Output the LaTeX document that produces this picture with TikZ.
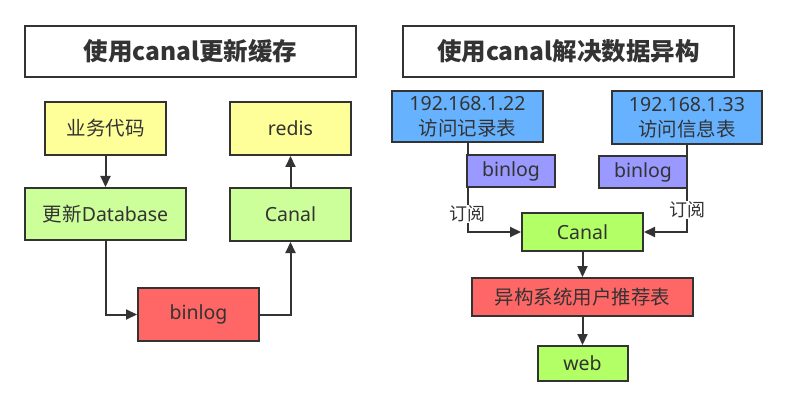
\documentclass[tikz,border=0pt]{standalone}
\usepackage{fontspec}
\setmainfont{Noto Sans}
\newfontfamily\cjk{Noto Sans CJK SC}
\usetikzlibrary{arrows.meta}
\definecolor{txt}{HTML}{333333}
\definecolor{cyel}{HTML}{FFFF99}
\definecolor{cgrn}{HTML}{CCFF99}
\definecolor{cred}{HTML}{FF6666}
\definecolor{cblu}{HTML}{66B2FF}
\definecolor{cpur}{HTML}{9999FF}
\definecolor{clim}{HTML}{B3FF66}
\tikzset{
  boxnode/.style={draw=txt,line width=2pt,inner sep=0pt,text=txt,align=center,
    font=\fontsize{19.5}{25}\selectfont},
  titlenode/.style={boxnode,fill=white,minimum width=331pt,minimum height=51pt,
    font=\fontsize{24.5}{28}\selectfont\cjk\bfseries},
  conn/.style={draw=txt,line width=2pt,-{Triangle[length=11pt,width=10pt]}},
  sublabel/.style={fill=white,inner sep=1pt,text=txt,font=\fontsize{18}{20}\selectfont\cjk}
}
\begin{document}
\begin{tikzpicture}[x=1pt,y=-1pt]
\useasboundingbox (0,0) rectangle (787,406);
% titles
\node[titlenode] (t1) at (190.5,51.5) {使用canal更新缓存};
\node[titlenode] (t2) at (568.5,51.5) {使用canal解决数据异构};
% left diagram
\node[boxnode,fill=cyel,minimum width=121pt,minimum height=53pt] (code) at (105.5,128.5) {\cjk 业务代码};
\node[boxnode,fill=cyel,minimum width=121pt,minimum height=53pt] (redis) at (290.5,128.5) {redis};
\node[boxnode,fill=cgrn,minimum width=161pt,minimum height=52pt] (db) at (105.5,214) {{\cjk 更新}Database};
\node[boxnode,fill=cgrn,minimum width=121pt,minimum height=53pt] (canalL) at (290.5,214.5) {Canal};
\node[boxnode,fill=cred,minimum width=121pt,minimum height=53pt] (binL) at (198.5,314.5) {binlog};
\draw[conn] (code) -- (db);
\draw[conn] (db.south) |- (binL.west);
\draw[conn] (binL.east) -| (canalL.south);
\draw[conn] (canalL) -- (redis);
% right diagram
\node[boxnode,fill=cblu,minimum width=151pt,minimum height=51pt] (ip1) at (467.5,116.5) {192.168.1.22\\{\cjk 访问记录表}};
\node[boxnode,fill=cblu,minimum width=150pt,minimum height=53pt] (ip2) at (687,117.5) {192.168.1.33\\{\cjk 访问信息表}};
\node[boxnode,fill=clim,minimum width=121pt,minimum height=38pt] (canalR) at (582.5,232) {Canal};
\node[boxnode,fill=cred,minimum width=221pt,minimum height=38pt] (rec) at (582.5,297) {\cjk 异构系统用户推荐表};
\node[boxnode,fill=clim,minimum width=90pt,minimum height=35pt] (web) at (582.5,363.5) {web};
\draw[conn] (ip1.south) |- node[sublabel,pos=0.4] (sub1) {订阅} (canalR.west);
\draw[conn] (ip2.south) |- node[sublabel,pos=0.375] (sub2) {订阅} (canalR.east);
\draw[conn] (canalR) -- (rec);
\draw[conn] (rec) -- (web);
\node[boxnode,fill=cpur,minimum width=88pt,minimum height=32pt] (bl1) at (511,171) {binlog};
\node[boxnode,fill=cpur,minimum width=88pt,minimum height=32pt] (bl2) at (643,172) {binlog};
\end{tikzpicture}
\end{document}
